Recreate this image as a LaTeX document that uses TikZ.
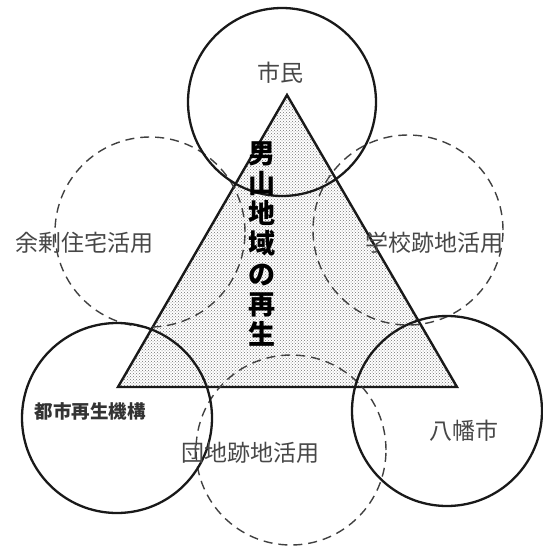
\documentclass[tikz,border=0pt]{standalone}
\usepackage{fontspec}
\newfontfamily\jpfont{Noto Sans CJK JP}
\usetikzlibrary{patterns}
\begin{document}
\begin{tikzpicture}[x=1pt,y=-1pt,
  solidc/.style={draw=black!90,line width=2.3pt},
  dashc/.style={draw=black!75,line width=1.4pt,dash pattern=on 9pt off 6pt},
  lbl/.style={text=black!72,font=\jpfont\fontsize{23}{26}\selectfont,inner sep=0pt},
  tri/.style={draw=black!90,line width=2.4pt,line join=miter,pattern=crosshatch dots,pattern color=black!55}]
\useasboundingbox (0,0) rectangle (542,546);
% triangle
\coordinate (A) at (287,95);
\coordinate (B) at (118,387);
\coordinate (C) at (457,387);
\path[tri] (A) -- (B) -- (C) -- cycle;
% dashed circles
\node[dashc,circle,minimum size=190pt,inner sep=0pt] (yojo) at (150,232) {};
\node[dashc,circle,minimum size=190pt,inner sep=0pt] (gakko) at (408,230) {};
\node[dashc,circle,minimum size=190pt,inner sep=0pt] (danchi) at (291,450) {};
% solid circles
\node[solidc,circle,minimum size=188pt,inner sep=0pt] (shimin) at (282,102) {};
\node[solidc,circle,minimum size=190pt,inner sep=0pt] (toshi) at (117,418) {};
\node[solidc,circle,minimum size=190pt,inner sep=0pt] (yawata) at (447,411) {};
% labels
\node[lbl] (t1) at (280,73) {市民};
\node[lbl] (t2) at (84,243) {余剰住宅活用};
\node[lbl] (t3) at (434,243) {学校跡地活用};
\node[lbl,font=\jpfont\bfseries\fontsize{18.5}{20}\selectfont,text=black!80] (t4) at (90,411) {都市再生機構};
\node[lbl] (t5) at (464,431) {八幡市};
\node[lbl] (t6) at (250,453) {団地跡地活用};
\node[inner sep=0pt,align=center,font=\jpfont\bfseries\fontsize{27}{30.3}\selectfont] (main) at (262,244) {男\\山\\地\\域\\の\\再\\生};
\end{tikzpicture}
\end{document}
